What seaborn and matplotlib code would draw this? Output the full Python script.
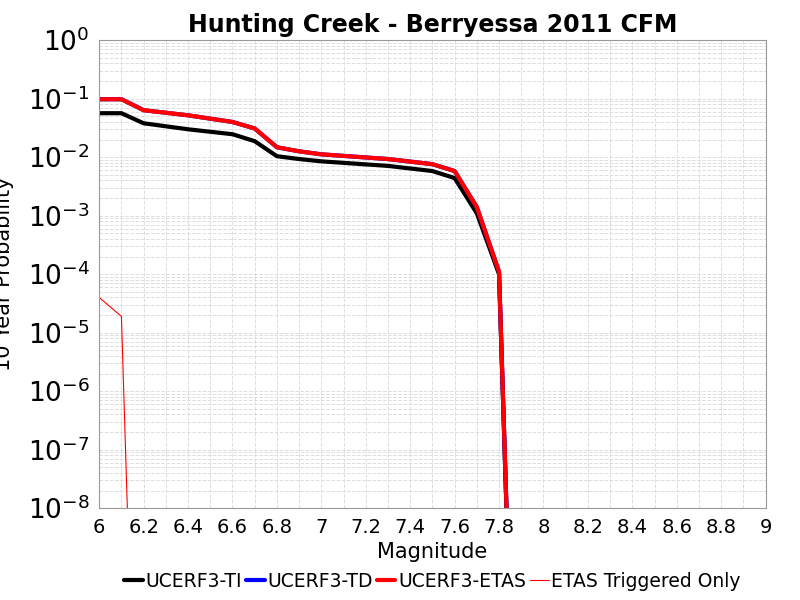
import matplotlib
matplotlib.use("Agg")
import matplotlib.pyplot as plt
import seaborn as sns
import numpy as np
from matplotlib.ticker import LogLocator, LogFormatterMathtext, MultipleLocator

sns.set_style("white")
plt.rcParams['font.family'] = ['DejaVu Sans']
plt.rcParams['text.color'] = 'black'
plt.rcParams['axes.labelcolor'] = 'black'
plt.rcParams['xtick.color'] = 'black'
plt.rcParams['ytick.color'] = 'black'

mags = [6.0, 6.1, 6.2, 6.4, 6.6, 6.7, 6.8, 6.9, 7.0, 7.3, 7.5, 7.6, 7.7, 7.8, 7.9]
ti = [0.0565, 0.0565, 0.038, 0.030, 0.0247, 0.0188, 0.0104, 0.0093, 0.0085, 0.0071, 0.0058, 0.0044, 0.0011, 1.0e-4, 1e-16]
td = [0.098, 0.098, 0.0636, 0.052, 0.040, 0.031, 0.0148, 0.0126, 0.0112, 0.0093, 0.0076, 0.0058, 0.0014, 1.1e-4, 1e-16]
etas = td
trig_m = [6.0, 6.1, 6.2]
trig = [4.0e-5, 1.9e-5, 1e-17]

fig, ax = plt.subplots(figsize=(8, 6), dpi=100)
fig.subplots_adjust(left=0.124, right=0.957, top=0.933, bottom=0.153)
sns.lineplot(x=mags, y=ti, ax=ax, color='black', lw=3, label='UCERF3-TI')
sns.lineplot(x=mags, y=td, ax=ax, color='blue', lw=3, label='UCERF3-TD')
sns.lineplot(x=mags, y=etas, ax=ax, color='red', lw=3, label='UCERF3-ETAS')
sns.lineplot(x=trig_m, y=trig, ax=ax, color='red', lw=0.8, label='ETAS Triggered Only')
ax.set_yscale('log')
ax.set_xlim(6, 9)
ax.set_ylim(1e-8, 1)
ax.xaxis.set_major_locator(MultipleLocator(0.2))
ax.xaxis.set_minor_locator(MultipleLocator(0.1))
ax.set_xticklabels([f"{v:g}" for v in ax.get_xticks()])
ax.yaxis.set_major_locator(LogLocator(base=10, numticks=20))
ax.yaxis.set_minor_locator(LogLocator(base=10, subs=np.arange(2, 10), numticks=100))
ax.yaxis.set_major_formatter(LogFormatterMathtext())
ax.grid(True, which='both', color='#dddddd', ls='--', lw=0.7)
ax.tick_params(axis='y', labelsize=19)
ax.tick_params(axis='x', labelsize=14)
for s in ax.spines.values():
    s.set_color('#999999')
ax.set_title('Hunting Creek - Berryessa 2011 CFM', fontsize=17, fontweight='bold')
ax.set_xlabel('Magnitude', fontsize=15)
ax.set_ylabel('10 Year Probability', fontsize=15, labelpad=10)
ax.legend(loc='upper center', bbox_to_anchor=(0.5, -0.1), ncol=4, frameon=False,
          fontsize=13.5, handlelength=1.0, columnspacing=0.2, handletextpad=0.15)
fig.savefig('out.png')
